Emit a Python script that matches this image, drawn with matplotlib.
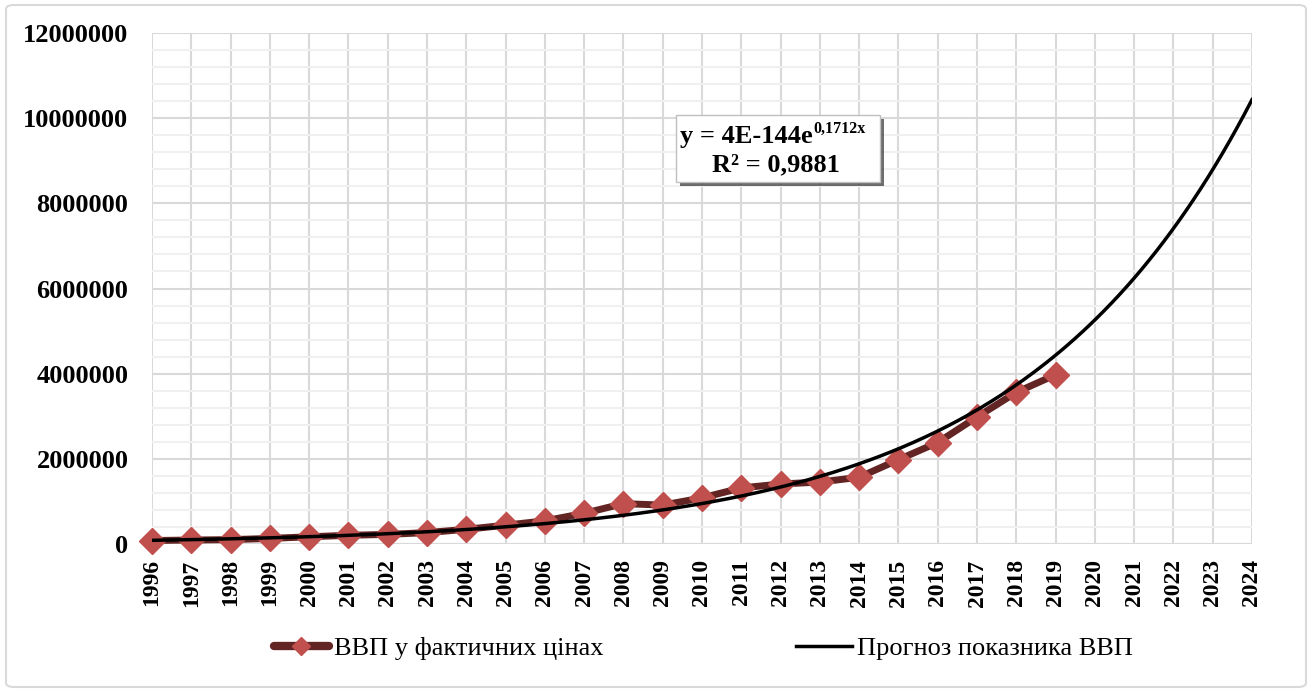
#!/usr/bin/env python3

import numpy as np
import matplotlib
matplotlib.use('Agg')
import matplotlib.pyplot as plt
import matplotlib.patches as mpatches
import matplotlib.patheffects as pe
from matplotlib.lines import Line2D

# nominal GDP, million UAH
years = list(range(1996, 2020))
gdp = [81519, 93365, 102593, 130442, 170070, 204190, 225810, 267344,
       345113, 441452, 544153, 720731, 948056, 913345, 1082569, 1316600,
       1408889, 1454931, 1566728, 1979458, 2383182, 2982920, 3560596,
       3974564]
forecast_years = list(range(1996, 2025))

series_label = 'ВВП у фактичних цінах'
trend_label = 'Прогноз показника ВВП'
eq_main = 'y = 4E-144e'
eq_sup = '0,1712x'
eq_r2 = 'R² = 0,9881'

W, H = 1312, 691
plt.rcParams['font.family'] = ['Liberation Serif', 'DejaVu Serif']

fig = plt.figure(figsize=(W / 100, H / 100), dpi=100)
ax = fig.add_axes([152 / W, 1 - 544 / H, 1100 / W, 511 / H])

# chart border
fig.patches.append(mpatches.FancyBboxPatch(
    (6 / W, 4 / H), 1300 / W, 682 / H,
    boxstyle='round,pad=0,rounding_size=0.006',
    transform=fig.transFigure, fill=False, edgecolor='#d9d9d9', lw=1.5))

# exponential trend, least squares on log values like Excel
b, a = np.polyfit(years, np.log(gdp), 1)
xs = np.linspace(1996, 2024, 300)
trend = np.exp(a + b * xs)

ax.plot(years, gdp, color='#632523', lw=5, marker='D', markersize=13,
        markerfacecolor='#c0504d', markeredgecolor='#c0504d',
        clip_on=False, zorder=3, solid_joinstyle='round')
ax.plot(xs, trend, color='black', lw=2.5, zorder=4)

ax.set_xlim(1996, 2024)
ax.set_ylim(0, 12000000)
ax.set_xticks(forecast_years)
ax.set_xticklabels([str(y) for y in forecast_years], rotation=90,
                   fontweight='bold', fontsize=17)
ax.set_yticks(np.arange(0, 12000001, 2000000))
ax.set_yticklabels([str(v) for v in range(0, 12000001, 2000000)],
                   fontweight='bold', fontsize=19)
ax.set_yticks(np.arange(0, 12000001, 400000), minor=True)
ax.tick_params(axis='both', which='both', length=0)
ax.tick_params(axis='y', pad=17)
ax.tick_params(axis='x', pad=11)

ax.grid(True, which='minor', axis='y', color='#f0f0f0', lw=1.5)
ax.grid(True, which='major', axis='both', color='#d9d9d9', lw=1.5)
ax.set_axisbelow(True)
for s in ax.spines.values():
    s.set_visible(False)
ax.axhline(0, color='#d9d9d9', lw=1.5, zorder=1)

# equation box with shadow
box = mpatches.Rectangle((676 / W, 1 - 182 / H), 204 / W, 67 / H,
                         transform=fig.transFigure, facecolor='white',
                         edgecolor='#bfbfbf', lw=1, zorder=5,
                         path_effects=[pe.SimplePatchShadow(offset=(3, -3),
                                                            shadow_rgbFace='#303030',
                                                            alpha=0.7),
                                       pe.Normal()])
fig.patches.append(box)
t1 = fig.text(680 / W, 1 - 143 / H, eq_main, ha='left', va='baseline',
              fontsize=19, fontweight='bold', zorder=6)
fig.canvas.draw()
bb = t1.get_window_extent()
fig.text((bb.x1 + 1) / W, 1 - 121 / H, eq_sup, ha='left', va='top',
         fontsize=11.5, fontweight='bold', zorder=6)
fig.text(776 / W, 1 - 171 / H, eq_r2, ha='center', va='baseline',
         fontsize=19, fontweight='bold', zorder=6)

handles = [
    Line2D([], [], color='#632523', lw=6, marker='D', markersize=9,
           markerfacecolor='#c0504d', markeredgecolor='#c0504d',
           solid_capstyle='round'),
    Line2D([], [], color='black', lw=2.5),
]
fig.legend(handles, [series_label, trend_label], loc='center',
           bbox_to_anchor=(0.536, 1 - 648 / H), ncol=2, frameon=False,
           fontsize=19, handlelength=2.1, handletextpad=0.2,
           columnspacing=7.3)

fig.savefig('out.png', dpi=100)
